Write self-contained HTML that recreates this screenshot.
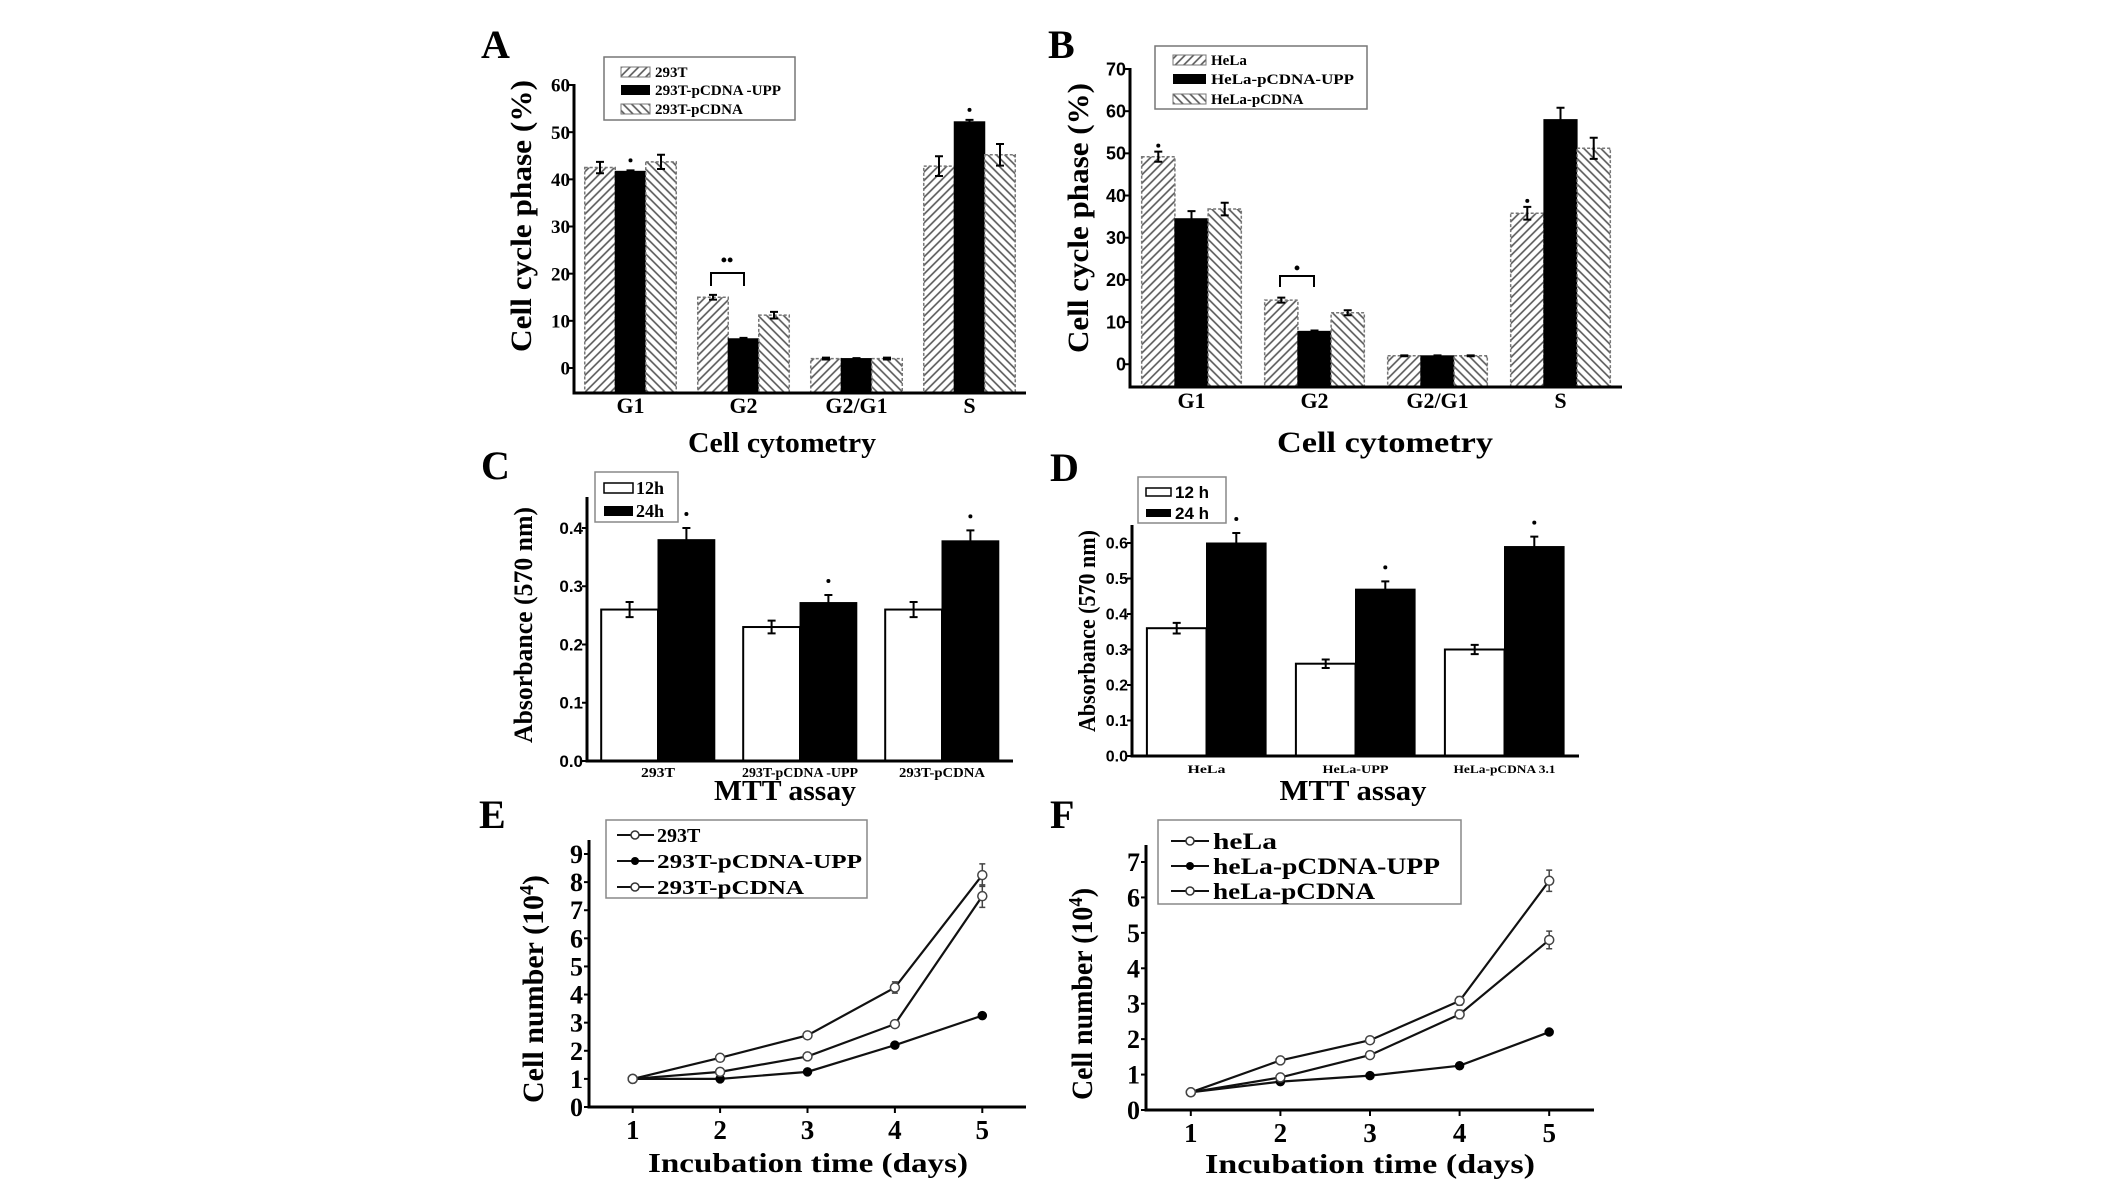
<!DOCTYPE html>
<html><head><meta charset="utf-8"><style>
html,body{margin:0;padding:0;background:#fff;}
svg{display:block;}
text{font-family:"Liberation Serif",serif;font-weight:bold;fill:#000;}
.sans{font-family:"Liberation Sans",sans-serif;}
</style></head><body>
<svg id="fig" xmlns="http://www.w3.org/2000/svg" width="2126" height="1189" viewBox="0 0 2126 1189">
<defs>
<pattern id="hatchR" width="6" height="6" patternUnits="userSpaceOnUse" patternTransform="rotate(45)"><rect width="6" height="6" fill="#fff"/><line x1="1" y1="0" x2="1" y2="6" stroke="#555" stroke-width="1.6"/></pattern>
<pattern id="hatchL" width="6" height="6" patternUnits="userSpaceOnUse" patternTransform="rotate(-45)"><rect width="6" height="6" fill="#fff"/><line x1="1" y1="0" x2="1" y2="6" stroke="#555" stroke-width="1.6"/></pattern>
</defs>

<!-- Panel labels -->
<text x="481" y="58" font-size="40">A</text>
<text x="1048" y="58" font-size="40">B</text>
<text x="481" y="479" font-size="40">C</text>
<text x="1050" y="481" font-size="40">D</text>
<text x="479" y="828" font-size="40">E</text>
<text x="1050" y="828" font-size="40">F</text>

<!-- Axis titles -->
<text transform="translate(531,216) rotate(-90)" text-anchor="middle" font-size="30" textLength="272" lengthAdjust="spacingAndGlyphs">Cell cycle phase (%)</text>
<text transform="translate(1088,218) rotate(-90)" text-anchor="middle" font-size="30" textLength="270" lengthAdjust="spacingAndGlyphs">Cell cycle phase (%)</text>
<text x="782" y="452" text-anchor="middle" font-size="28" textLength="188" lengthAdjust="spacingAndGlyphs">Cell cytometry</text>
<text x="1385" y="452" text-anchor="middle" font-size="30" textLength="216" lengthAdjust="spacingAndGlyphs">Cell cytometry</text>
<text transform="translate(532,625) rotate(-90)" text-anchor="middle" font-size="26" textLength="236" lengthAdjust="spacingAndGlyphs">Absorbance (570 nm)</text>
<text transform="translate(1095,631) rotate(-90)" text-anchor="middle" font-size="24" textLength="202" lengthAdjust="spacingAndGlyphs">Absorbance (570 nm)</text>
<text x="785" y="800" text-anchor="middle" font-size="28" textLength="142" lengthAdjust="spacingAndGlyphs">MTT assay</text>
<text x="1353" y="800" text-anchor="middle" font-size="28" textLength="147" lengthAdjust="spacingAndGlyphs">MTT assay</text>
<text transform="translate(543,989) rotate(-90)" text-anchor="middle" font-size="30" textLength="228" lengthAdjust="spacingAndGlyphs">Cell number (10<tspan font-size="20" dy="-10">4</tspan><tspan dy="10">)</tspan></text>
<text transform="translate(1092,994) rotate(-90)" text-anchor="middle" font-size="30" textLength="212" lengthAdjust="spacingAndGlyphs">Cell number (10<tspan font-size="20" dy="-10">4</tspan><tspan dy="10">)</tspan></text>
<text x="808" y="1172" text-anchor="middle" font-size="27" textLength="320" lengthAdjust="spacingAndGlyphs">Incubation time (days)</text>
<text x="1370" y="1173" text-anchor="middle" font-size="27" textLength="330" lengthAdjust="spacingAndGlyphs">Incubation time (days)</text>

<!-- Legend A -->
<g>
<rect x="604" y="57" width="191" height="63" fill="#fff" stroke="#777" stroke-width="1.5"/>
<rect x="621" y="67" width="29" height="10" fill="url(#hatchR)" stroke="#777"/>
<rect x="621" y="85" width="29" height="10" fill="#000"/>
<rect x="621" y="104" width="29" height="10" fill="url(#hatchL)" stroke="#777"/>
<text x="655" y="77" font-size="15">293T</text>
<text x="655" y="95" font-size="15" textLength="126" lengthAdjust="spacingAndGlyphs">293T-pCDNA -UPP</text>
<text x="655" y="114" font-size="15">293T-pCDNA</text>
</g>
<!-- Legend B -->
<g>
<rect x="1155" y="46" width="212" height="63" fill="#fff" stroke="#777" stroke-width="1.5"/>
<rect x="1173" y="55" width="33" height="10" fill="url(#hatchR)" stroke="#777"/>
<rect x="1173" y="74" width="33" height="10" fill="#000"/>
<rect x="1173" y="94" width="33" height="10" fill="url(#hatchL)" stroke="#777"/>
<text x="1211" y="65" font-size="15">HeLa</text>
<text x="1211" y="84" font-size="15" textLength="143" lengthAdjust="spacingAndGlyphs">HeLa-pCDNA-UPP</text>
<text x="1211" y="104" font-size="15">HeLa-pCDNA</text>
</g>
<!-- Legend C -->
<g>
<rect x="595" y="472" width="83" height="50" fill="#fff" stroke="#888" stroke-width="1.5"/>
<rect x="604" y="483" width="29" height="10" fill="#fff" stroke="#000" stroke-width="1.5"/>
<rect x="604" y="506" width="29" height="10" fill="#000"/>
<text x="636" y="494" font-size="18">12h</text>
<text x="636" y="517" font-size="18">24h</text>
</g>
<!-- Legend D -->
<g>
<rect x="1138" y="477" width="88" height="46" fill="#fff" stroke="#888" stroke-width="1.5"/>
<rect x="1146" y="488" width="25" height="8" fill="#fff" stroke="#000" stroke-width="1.5"/>
<rect x="1146" y="509" width="25" height="8" fill="#000"/>
<text x="1175" y="498" font-size="17" class="sans">12 h</text>
<text x="1175" y="519" font-size="17" class="sans">24 h</text>
</g>
<!-- Legend E -->
<g>
<rect x="606" y="820" width="261" height="78" fill="#fff" stroke="#888" stroke-width="1.5"/>
<line x1="617" y1="835" x2="654" y2="835" stroke="#111" stroke-width="2"/><circle cx="635" cy="835" r="4" fill="#fff" stroke="#333" stroke-width="1.5"/>
<line x1="617" y1="861" x2="654" y2="861" stroke="#111" stroke-width="2"/><circle cx="635" cy="861" r="4" fill="#000"/>
<line x1="617" y1="887" x2="654" y2="887" stroke="#111" stroke-width="2"/><circle cx="635" cy="887" r="4" fill="#fff" stroke="#333" stroke-width="1.5"/>
<text x="657" y="842" font-size="20">293T</text>
<text x="657" y="868" font-size="20" textLength="205" lengthAdjust="spacingAndGlyphs">293T-pCDNA-UPP</text>
<text x="657" y="894" font-size="20" textLength="147" lengthAdjust="spacingAndGlyphs">293T-pCDNA</text>
</g>
<!-- Legend F -->
<g>
<rect x="1158" y="820" width="303" height="84" fill="#fff" stroke="#888" stroke-width="1.5"/>
<line x1="1171" y1="841" x2="1209" y2="841" stroke="#111" stroke-width="2"/><circle cx="1190" cy="841" r="4" fill="#fff" stroke="#333" stroke-width="1.5"/>
<line x1="1171" y1="866" x2="1209" y2="866" stroke="#111" stroke-width="2"/><circle cx="1190" cy="866" r="4" fill="#000"/>
<line x1="1171" y1="891" x2="1209" y2="891" stroke="#111" stroke-width="2"/><circle cx="1190" cy="891" r="4" fill="#fff" stroke="#333" stroke-width="1.5"/>
<text x="1213" y="849" font-size="23" textLength="64" lengthAdjust="spacingAndGlyphs">heLa</text>
<text x="1213" y="874" font-size="23" textLength="227" lengthAdjust="spacingAndGlyphs">heLa-pCDNA-UPP</text>
<text x="1213" y="899" font-size="23" textLength="162" lengthAdjust="spacingAndGlyphs">heLa-pCDNA</text>
</g>

<!-- significance brackets -->
<path d="M711,286 L711,273 L744,273 L744,286" fill="none" stroke="#000" stroke-width="2"/>
<text x="727" y="266" text-anchor="middle" font-size="18">••</text>
<path d="M1280,287 L1280,276 L1314,276 L1314,287" fill="none" stroke="#000" stroke-width="2"/>
<text x="1297" y="274" text-anchor="middle" font-size="18">•</text>
<g id="plots"></g>
</svg>
<script>
// ---- Panel A data ----
const aCats = ['G1','G2','G2/G1','S'];
const a293T = [42.5, 15.0, 2.0, 42.8];
const a293TErr = [1.2, 0.5, 0.2, 2.1];
const aUPP = [41.7, 6.2, 2.0, 52.2];
const aUPPErr = [0.2, 0.2, 0.1, 0.4];
const aPC = [43.7, 11.2, 2.0, 45.2];
const aPCErr = [1.5, 0.7, 0.2, 2.3];
const aTicks = [0, 10, 20, 30, 40, 50, 60];
// ---- Panel B data ----
const bCats = ['G1','G2','G2/G1','S'];
const bHeLa = [49.2, 15.2, 2.0, 35.8];
const bHeLaErr = [1.2, 0.6, 0.1, 1.5];
const bUPP = [34.5, 7.8, 2.0, 58.0];
const bUPPErr = [1.8, 0.2, 0.1, 2.8];
const bPC = [36.8, 12.2, 2.0, 51.2];
const bPCErr = [1.5, 0.6, 0.1, 2.5];
const bTicks = [0, 10, 20, 30, 40, 50, 60, 70];
// ---- Panel C data ----
const cCats = ['293T','293T-pCDNA -UPP','293T-pCDNA'];
const c12 = [0.26, 0.23, 0.26];
const c12Err = [0.013, 0.011, 0.013];
const c24 = [0.38, 0.272, 0.378];
const c24Err = [0.02, 0.013, 0.018];
const cTicks = [0, 0.1, 0.2, 0.3, 0.4];
const cTickLabels = ['0.0','0.1','0.2','0.3','0.4'];
// ---- Panel D data ----
const dCats = ['HeLa','HeLa-UPP','HeLa-pCDNA 3.1'];
const d12 = [0.36, 0.26, 0.30];
const d12Err = [0.015, 0.012, 0.013];
const d24 = [0.60, 0.47, 0.59];
const d24Err = [0.028, 0.022, 0.028];
const dTicks = [0, 0.1, 0.2, 0.3, 0.4, 0.5, 0.6];
const dTickLabels = ['0.0','0.1','0.2','0.3','0.4','0.5','0.6'];
// ---- Panel E data ----
const eDays = [1, 2, 3, 4, 5];
const e293T = [1.0, 1.75, 2.55, 4.25, 8.25];
const e293TErr = [0.05, 0.05, 0.08, 0.2, 0.4];
const eUPP = [1.0, 1.0, 1.25, 2.2, 3.25];
const eUPPErr = [0.03, 0.03, 0.04, 0.05, 0.08];
const ePC = [1.0, 1.25, 1.8, 2.95, 7.5];
const ePCErr = [0.03, 0.05, 0.06, 0.1, 0.4];
const eTicks = [0,1,2,3,4,5,6,7,8,9];
// ---- Panel F data ----
const fDays = [1, 2, 3, 4, 5];
const fHeLa = [0.5, 1.4, 1.97, 3.08, 6.47];
const fHeLaErr = [0.03, 0.05, 0.06, 0.12, 0.3];
const fUPP = [0.5, 0.8, 0.97, 1.25, 2.2];
const fUPPErr = [0.02, 0.03, 0.03, 0.04, 0.06];
const fPC = [0.5, 0.92, 1.55, 2.7, 4.8];
const fPCErr = [0.02, 0.05, 0.06, 0.12, 0.25];
const fTicks = [0,1,2,3,4,5,6,7];

const NS = 'http://www.w3.org/2000/svg';
const root = document.getElementById('plots');
function mk(tag, attrs, parent) {
  const e = document.createElementNS(NS, tag);
  for (const k in attrs) e.setAttribute(k, attrs[k]);
  (parent || root).appendChild(e);
  return e;
}

function barChart(c) {
  const g = mk('g', {});
  
  
  const n = c.cats.length, step = (c.x1 - c.x0) / n;
  const X = i => c.x0 + step * (i + 0.5);
  const Y = v => c.yb - (v - c.vmin) * (c.yb - c.yt) / (c.vmax - c.vmin);
  const ns = c.series.length, bw = c.bw * step;
  c.series.forEach((s, si) => {
    const off = (si - (ns - 1) / 2) * bw;
    s.vals.forEach((v, i) => {
      const cx = X(i) + off;
      const r = mk('rect', {x: cx - bw / 2, y: Y(v), width: bw, height: Y(c.vmin) - Y(v), fill: s.fill, stroke: s.stroke, 'stroke-width': s.sw, 'stroke-dasharray': s.dash || 'none'}, g);
      
      
      const e = s.errs[i];
      const eb = mk('path', {d: `M${cx},${Y(v - e)}L${cx},${Y(v + e)}M${cx - 4},${Y(v - e)}L${cx + 4},${Y(v - e)}M${cx - 4},${Y(v + e)}L${cx + 4},${Y(v + e)}`, stroke: '#000', 'stroke-width': 2, fill: 'none'}, g);
      
      
      if (s.sig && s.sig[i]) {
        const d = mk('circle', {cx: cx, cy: Y(v + e) - c.sigGap, r: 2, fill: '#000'}, g);
        
        
      }
    });
  });
  const ax = mk('path', {d: `M${c.x0},${c.axisTop}L${c.x0},${c.yb}L${c.x1},${c.yb}`, stroke: '#000', 'stroke-width': 3, fill: 'none'}, g);
  
  
  c.ticks.forEach((t, i) => {
    const tk = mk('line', {x1: c.x0 - 5, x2: c.x0, y1: Y(t), y2: Y(t), stroke: '#000', 'stroke-width': 2}, g);
    
    
    const tl = mk('text', {x: c.x0 - 4, y: Y(t) + c.tickSize * 0.35, 'text-anchor': 'end', 'font-size': c.tickSize, class: c.tickClass}, g);
    tl.textContent = c.tickLabels ? c.tickLabels[i] : String(t);
    
    
  });
  c.cats.forEach((cat, i) => {
    const attrs = {x: X(i), y: c.catY, 'text-anchor': 'middle', 'font-size': c.catSize, 'letter-spacing': c.catLS || 0};
    if (c.catLen && c.catLen[i]) { attrs.textLength = c.catLen[i]; attrs.lengthAdjust = 'spacingAndGlyphs'; }
    const t = mk('text', attrs, g);
    t.textContent = cat;
    
    
  });
}

function lineChart(c) {
  const g = mk('g', {});
  
  
  const X = v => c.x0 + (v - c.xmin) * (c.x1 - c.x0) / (c.xmax - c.xmin);
  const Y = v => c.yb - (v - c.vmin) * (c.yb - c.yt) / (c.vmax - c.vmin);
  const ax = mk('path', {d: `M${c.x0},${c.axisTop}L${c.x0},${c.yb}L${c.x1},${c.yb}`, stroke: '#000', 'stroke-width': 3, fill: 'none'}, g);
  
  
  c.ticks.forEach(t => {
    const tk = mk('line', {x1: c.x0 - 5, x2: c.x0, y1: Y(t), y2: Y(t), stroke: '#000', 'stroke-width': 2}, g);
    
    
    const tl = mk('text', {x: c.x0 - 6, y: Y(t) + 9, 'text-anchor': 'end', 'font-size': 26}, g);
    tl.textContent = String(t);
    
    
  });
  c.days.forEach(d => {
    const tk = mk('line', {x1: X(d), x2: X(d), y1: c.yb, y2: c.yb + 6, stroke: '#000', 'stroke-width': 2}, g);
    
    
    const tl = mk('text', {x: X(d), y: c.yb + 32, 'text-anchor': 'middle', 'font-size': 27}, g);
    tl.textContent = String(d);
    
    
  });
  c.series.forEach(s => {
    const pts = s.vals.map((v, i) => X(c.days[i]) + ',' + Y(v)).join(' ');
    const pl = mk('polyline', {points: pts, fill: 'none', stroke: '#111', 'stroke-width': 2.2}, g);
    
    
    s.vals.forEach((v, i) => {
      const x = X(c.days[i]), e = s.errs[i];
      const eb = mk('path', {d: `M${x},${Y(v - e)}L${x},${Y(v + e)}M${x - 3},${Y(v - e)}L${x + 3},${Y(v - e)}M${x - 3},${Y(v + e)}L${x + 3},${Y(v + e)}`, stroke: '#444', 'stroke-width': 1.5, fill: 'none'}, g);
      
      
      const p = mk('circle', {cx: x, cy: Y(v), r: s.filled ? 4 : 4.5, fill: s.filled ? '#000' : '#fff', stroke: s.filled ? '#000' : '#444', 'stroke-width': 1.5}, g);
      
      
    });
  });
}

const hatch = 'url(#hatchR)', hatchL = 'url(#hatchL)';
barChart({id: 'panel-a', x0: 574, x1: 1026, yb: 393, yt: 85, vmin: -5.3, vmax: 60, axisTop: 84, bw: 0.27,
  cats: aCats, ticks: aTicks, tickSize: 19, tickClass: '', catY: 413, catSize: 22, sigGap: 10,
  series: [
    {key: '293t', vals: a293T, errs: a293TErr, fill: hatch, stroke: '#777', sw: 1.5, dash: '3,2'},
    {key: '293t-upp', vals: aUPP, errs: aUPPErr, fill: '#000', stroke: '#000', sw: 1, sig: [1, 0, 0, 1]},
    {key: '293t-pcdna', vals: aPC, errs: aPCErr, fill: hatchL, stroke: '#777', sw: 1.5, dash: '3,2'}]});
barChart({id: 'panel-b', x0: 1130, x1: 1622, yb: 387, yt: 69, vmin: -5.4, vmax: 70, axisTop: 68, bw: 0.27,
  cats: bCats, ticks: bTicks, tickSize: 18, tickClass: 'sans', catY: 408, catSize: 22, sigGap: 6,
  series: [
    {key: 'hela', vals: bHeLa, errs: bHeLaErr, fill: hatch, stroke: '#777', sw: 1.5, dash: '3,2', sig: [1, 0, 0, 1]},
    {key: 'hela-upp', vals: bUPP, errs: bUPPErr, fill: '#000', stroke: '#000', sw: 1},
    {key: 'hela-pcdna', vals: bPC, errs: bPCErr, fill: hatchL, stroke: '#777', sw: 1.5, dash: '3,2'}]});
barChart({id: 'panel-c', x0: 587, x1: 1013, yb: 761, yt: 528, vmin: 0, vmax: 0.4, axisTop: 497, bw: 0.4,
  cats: cCats, ticks: cTicks, tickLabels: cTickLabels, tickSize: 17, tickClass: 'sans', catY: 777, catSize: 14, catLen: [34, 116, 86], sigGap: 14,
  series: [
    {key: '12h', vals: c12, errs: c12Err, fill: '#fff', stroke: '#000', sw: 2},
    {key: '24h', vals: c24, errs: c24Err, fill: '#000', stroke: '#000', sw: 1, sig: [1, 1, 1]}]});
barChart({id: 'panel-d', x0: 1132, x1: 1579, yb: 756, yt: 543, vmin: 0, vmax: 0.6, axisTop: 525, bw: 0.4,
  cats: dCats, ticks: dTicks, tickLabels: dTickLabels, tickSize: 16, tickClass: 'sans', catY: 773, catSize: 12, catLen: [38, 66, 102], sigGap: 14,
  series: [
    {key: '12h', vals: d12, errs: d12Err, fill: '#fff', stroke: '#000', sw: 2},
    {key: '24h', vals: d24, errs: d24Err, fill: '#000', stroke: '#000', sw: 1, sig: [1, 1, 1]}]});
lineChart({id: 'panel-e', x0: 589, x1: 1026, xmin: 0.5, xmax: 5.5, yb: 1107, yt: 854, vmin: 0, vmax: 9, axisTop: 840,
  days: eDays, ticks: eTicks,
  series: [
    {key: '293t', vals: e293T, errs: e293TErr, filled: false},
    {key: '293t-upp', vals: eUPP, errs: eUPPErr, filled: true},
    {key: '293t-pcdna', vals: ePC, errs: ePCErr, filled: false}]});
lineChart({id: 'panel-f', x0: 1146, x1: 1594, xmin: 0.5, xmax: 5.5, yb: 1110, yt: 862, vmin: 0, vmax: 7, axisTop: 845,
  days: fDays, ticks: fTicks,
  series: [
    {key: 'hela', vals: fHeLa, errs: fHeLaErr, filled: false},
    {key: 'hela-upp', vals: fUPP, errs: fUPPErr, filled: true},
    {key: 'hela-pcdna', vals: fPC, errs: fPCErr, filled: false}]});
</script>
</body></html>
